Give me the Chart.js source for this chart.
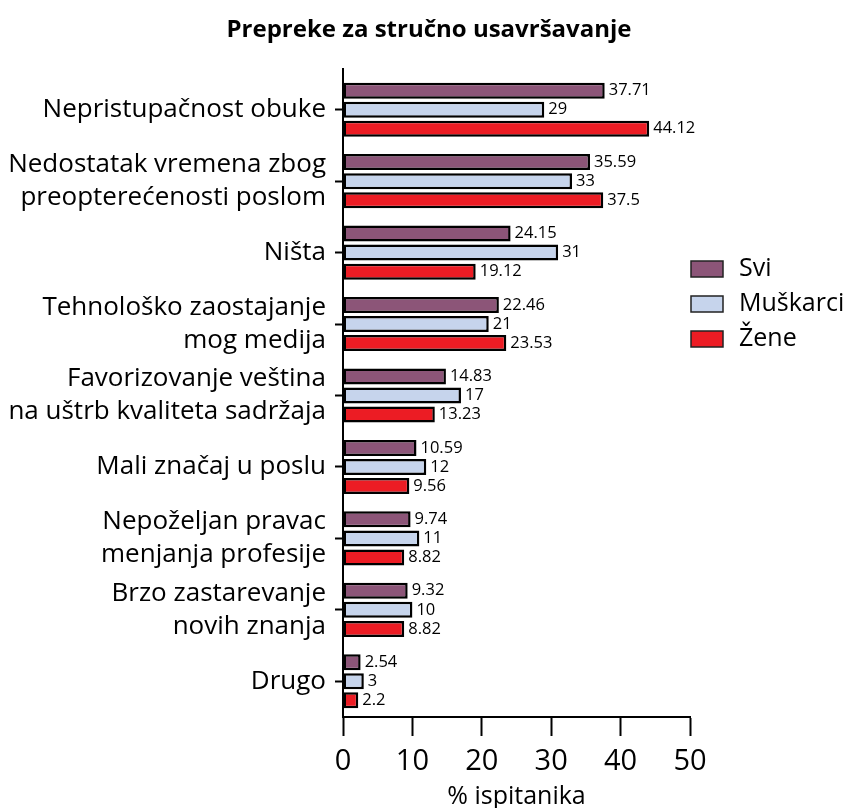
<!DOCTYPE html>
<html>
<head>
<meta charset="utf-8">
<script src="https://cdn.jsdelivr.net/npm/chart.js@4/dist/chart.umd.min.js"></script>
<style>
  html, body { margin: 0; padding: 0; background: #fff; }
  #wrap { width: 846px; height: 808px; }
</style>
</head>
<body>
<div id="wrap"><canvas id="chart" width="846" height="808"></canvas></div>
<script>
// Data
const categories = [
    'Nepristupačnost obuke',
    ['Nedostatak vremena zbog', 'preopterećenosti poslom'],
    'Ništa',
    ['Tehnološko zaostajanje', 'mog medija'],
    ['Favorizovanje veština', 'na uštrb kvaliteta sadržaja'],
    'Mali značaj u poslu',
    ['Nepoželjan pravac', 'menjanja profesije'],
    ['Brzo zastarevanje', 'novih znanja'],
    'Drugo'
];
const sviValues = [37.71, 35.59, 24.15, 22.46, 14.83, 10.59, 9.74, 9.32, 2.54];
const muskarciValues = [29, 33, 31, 21, 17, 12, 11, 10, 3];
const zeneValues = [44.12, 37.5, 19.12, 23.53, 13.23, 9.56, 8.82, 8.82, 2.2];
const seriesNames = ['Svi', 'Muškarci', 'Žene'];
const seriesColors = ['#8c5578', '#c6d4ec', '#ec1c24'];
const xTicks = [0, 10, 20, 30, 40, 50];

const FONT = '"Open Sans", "DejaVu Sans", sans-serif';

// Title, value labels and legend drawn on the canvas
const extrasPlugin = {
    id: 'extras',
    afterDraw(chart) {
        const ctx = chart.ctx;
        const area = chart.chartArea;
        ctx.save();

        // title
        ctx.fillStyle = '#000';
        ctx.font = 'bold 24px ' + FONT;
        ctx.textAlign = 'center';
        ctx.textBaseline = 'middle';
        ctx.fillText('Prepreke za stručno usavršavanje', 429, 30);

        // extend the y axis line a bit above the plot
        ctx.strokeStyle = '#000';
        ctx.lineWidth = 2;
        ctx.beginPath();
        ctx.moveTo(area.left, area.top);
        ctx.lineTo(area.left, area.top - 6);
        ctx.stroke();

        // value labels
        ctx.font = '16.5px ' + FONT;
        ctx.textAlign = 'left';
        ctx.textBaseline = 'middle';
        chart.data.datasets.forEach((ds, i) => {
            chart.getDatasetMeta(i).data.forEach((bar, j) => {
                ctx.fillText(String(ds.data[j]), bar.x + 4, bar.y);
            });
        });

        // legend
        ctx.font = '25px ' + FONT;
        seriesNames.forEach((name, i) => {
            const y = 269 + i * 35;
            ctx.fillStyle = seriesColors[i];
            ctx.fillRect(691, y - 8, 32, 16);
            ctx.strokeStyle = '#222';
            ctx.lineWidth = 1.5;
            ctx.strokeRect(691, y - 8, 32, 16);
            ctx.fillStyle = '#000';
            ctx.fillText(name, 739, y);
        });
        ctx.restore();
    }
};

const datasets = [sviValues, muskarciValues, zeneValues].map((vals, i) => ({
    label: seriesNames[i],
    data: vals,
    backgroundColor: seriesColors[i],
    borderColor: '#000',
    borderWidth: 2.5,
    borderSkipped: false,
    categoryPercentage: 0.8,
    barPercentage: 0.84
}));

new Chart(document.getElementById('chart').getContext('2d'), {
    type: 'bar',
    data: { labels: categories, datasets: datasets },
    options: {
        indexAxis: 'y',
        responsive: false,
        animation: false,
        layout: { padding: { top: 74, right: 156, left: 0, bottom: 0 } },
        plugins: {
            legend: { display: false },
            title: { display: false },
            tooltip: { enabled: false }
        },
        scales: {
            x: {
                min: 0,
                max: 50,
                afterBuildTicks(scale) {
                    scale.ticks = xTicks.map(v => ({ value: v }));
                },
                afterFit(scale) { scale.height = 91; },
                grid: {
                    drawOnChartArea: false,
                    drawTicks: true,
                    tickLength: 19,
                    tickWidth: 2,
                    tickColor: '#000'
                },
                border: { color: '#000', width: 2 },
                ticks: {
                    color: '#000',
                    font: { family: FONT, size: 29 },
                    padding: 8
                },
                title: {
                    display: true,
                    text: '% ispitanika',
                    color: '#000',
                    font: { family: FONT, size: 25, lineHeight: 0.9 },
                    padding: { top: 0, bottom: 0 }
                }
            },
            y: {
                afterFit(scale) { scale.width = 343; },
                grid: {
                    offset: false,
                    drawOnChartArea: false,
                    drawTicks: true,
                    tickLength: 8,
                    tickWidth: 2,
                    tickColor: '#000'
                },
                border: { color: '#000', width: 2 },
                ticks: {
                    color: '#000',
                    font: { family: FONT, size: 26, lineHeight: 1.27 },
                    padding: 9
                }
            }
        }
    },
    plugins: [extrasPlugin]
});
</script>
</body>
</html>
